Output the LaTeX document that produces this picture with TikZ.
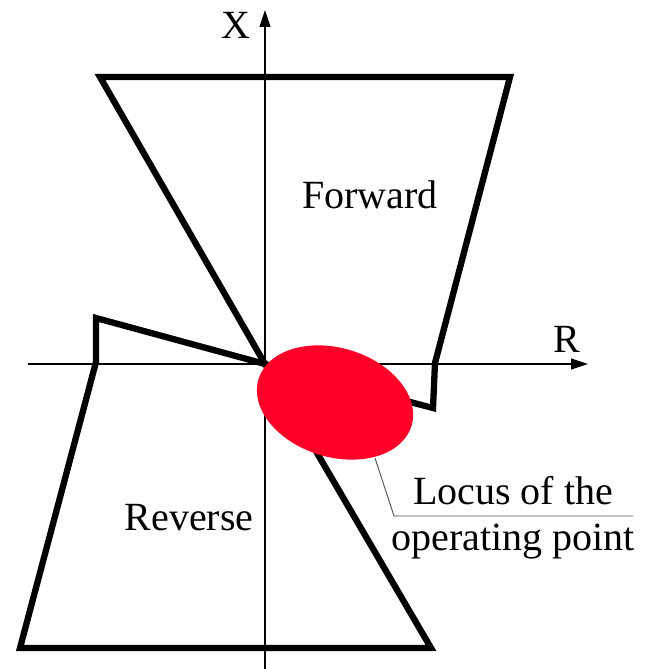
\documentclass[tikz,border=0pt]{standalone}
\usepackage{fontspec}
\setmainfont{Liberation Serif}
\usetikzlibrary{arrows.meta}
\begin{document}
\begin{tikzpicture}[x=1pt,y=-1pt,
  axis/.style={line width=1.1pt,-{Triangle[length=17pt,width=11pt]}},
  region/.style={line width=6.3pt,line join=miter},
  lbl/.style={font=\fontsize{40}{46}\selectfont,inner sep=0pt},
  leader/.style={line width=0.9pt,black!70}]
\useasboundingbox (0,0) rectangle (647,669);
% axes
\coordinate (xs) at (28,364);
\coordinate (xe) at (588,364);
\coordinate (ys) at (265,669);
\coordinate (ye) at (265,10);
\draw[axis] (xs) -- (xe);
\draw[axis] (ys) -- (ye);
\node[lbl] (X) at (236,25) {X};
\node[lbl] (R) at (567,339) {R};
% origin
\coordinate (O) at (265,364);
% forward region
\coordinate (f1) at (100,77);
\coordinate (f2) at (510,77);
\coordinate (f3) at (435,363);
\coordinate (f4) at (433,408);
\draw[region] (O) -- (f1) -- (f2) -- (f3) -- (f4) -- cycle;
% reverse region
\coordinate (r1) at (96,318);
\coordinate (r2) at (96,362);
\coordinate (r3) at (20,648);
\coordinate (r4) at (431,648);
\draw[region] (O) -- (r1) -- (r2) -- (r3) -- (r4) -- cycle;
\node[lbl] (fw) at (370,195) {Forward};
\node[lbl] (rv) at (189,518) {Reverse};
% locus ellipse
\fill[fill={rgb,255:red,255;green,0;blue,40}] (335,402.5) node (E) {} ellipse[x radius=80,y radius=54.5,rotate=-17];
% leader
\coordinate (l1) at (375,458);
\coordinate (l2) at (394,516);
\coordinate (l3) at (633,516);
\draw[leader] (l1) -- (l2) -- (l3);
\node[lbl,align=center] (loc) at (513,518) {Locus of the\\operating point};
\end{tikzpicture}
\end{document}
